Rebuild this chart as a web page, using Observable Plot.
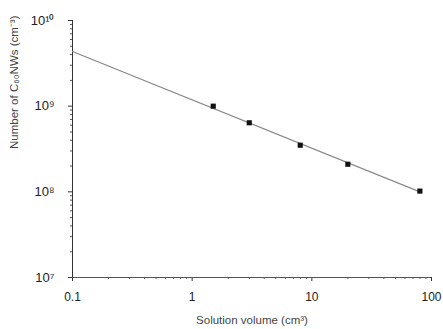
<!DOCTYPE html>
<html><head><meta charset="utf-8">
<script src="https://cdn.jsdelivr.net/npm/d3@7"></script>
<script src="https://cdn.jsdelivr.net/npm/@observablehq/plot@0.6"></script>
<style>body{margin:0;background:#fff;} svg{font-family:"Liberation Sans",Arial,sans-serif;}</style>
</head><body><div id="chart"></div>
<script>
const volumes = [1.5, 3, 8, 20, 80];
const counts = [1.0e9, 6.4e8, 3.5e8, 2.1e8, 1.02e8];
const fitX = [0.1, 80];
const fitY = [4.35e9, 1.0e8];
const xMajor = [0.1, 1, 10, 100];
const xMajorLabels = ["0.1", "1", "10", "100"];
const yMajor = [1e7, 1e8, 1e9, 1e10];
const yMajorLabels = ["10⁷", "10⁸", "10⁹", "10¹⁰"];
const xTitle = "Solution volume (cm³)";
const yTitle = "Number of C₆₀NWs (cm⁻³)";

const pts = volumes.map((v, i) => ({x: v, y: counts[i]}));
const fit = fitX.map((v, i) => ({x: v, y: fitY[i]}));
const minor = (lo, hi) => { const a = []; for (let e = lo; e < hi; e++) for (let k = 2; k <= 9; k++) a.push(k * 10 ** e); return a; };
const xMinor = minor(-1, 2);
const yMinor = minor(7, 10);

const chart = Plot.plot({
  width: 443, height: 329,
  marginLeft: 72, marginRight: 12, marginTop: 20, marginBottom: 52,
  style: {fontFamily: "Liberation Sans, Arial, sans-serif", fontSize: "11px", color: "#222"},
  x: {type: "log", domain: [0.1, 100]},
  y: {type: "log", domain: [1e7, 1e10]},
  marks: [
    Plot.axisX({ticks: xMajor, tickSize: 4, tickFormat: d => xMajorLabels[xMajor.indexOf(d)], fontSize: 12, tickPadding: 11, label: null, stroke: "#333"}),
    Plot.axisX({ticks: xMinor, tickSize: 2, tickFormat: null, text: null, label: null, stroke: "#555"}),
    Plot.axisY({ticks: yMajor, tickSize: 4, tickFormat: d => yMajorLabels[yMajor.indexOf(d)], fontSize: 13, tickPadding: 14, label: null, stroke: "#333"}),
    Plot.axisY({ticks: yMinor, tickSize: 2, text: null, label: null, stroke: "#555"}),
    Plot.ruleX([0.1], {stroke: "#333"}),
    Plot.ruleY([1e7], {stroke: "#555"}),
    Plot.line(fit, {x: "x", y: "y", stroke: "#888", strokeWidth: 1.2}),
    Plot.dot(pts, {x: "x", y: "y", symbol: "square", fill: "#111", r: 2.9}),
    Plot.text([xTitle], {frameAnchor: "bottom", dy: 46, fontSize: 11.5, fill: "#444"}),
    Plot.text([yTitle], {frameAnchor: "left", dx: -58, rotate: -90, fontSize: 11.5, fill: "#444"})
  ]
});
document.getElementById("chart").appendChild(chart);
</script></body></html>
